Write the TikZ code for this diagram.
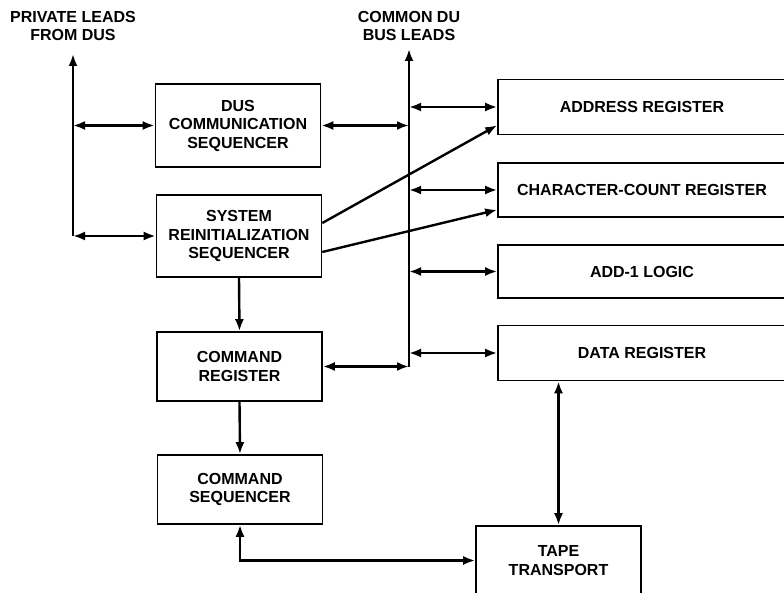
\documentclass[tikz,border=0pt]{standalone}
\usepackage{fontspec}
\newfontfamily\lblfont{Liberation Sans}
\usetikzlibrary{arrows.meta,positioning}
\tikzset{
  block/.style={draw, line width=1.6pt, minimum width=165pt, inner sep=2pt, align=center,
    font=\lblfont\bfseries\fontsize{16}{18.5}\selectfont},
  reg/.style={block, minimum width=288pt, minimum height=55pt},
  lbl/.style={align=center, inner sep=0pt, font=\lblfont\bfseries\fontsize{16}{18}\selectfont},
  link/.style={line width=2.4pt},
  >={Latex[length=12pt,width=9pt]}
}

\begin{document}
\begin{tikzpicture}[x=1pt,y=-1pt]
  \useasboundingbox (0,0) rectangle (784,593);
  \clip (0,0) rectangle (784,593);

  % Left column
  \node[block, minimum height=83pt] (dus) at (238,125.5) {DUS\\COMMUNICATION\\SEQUENCER};
  \node[block, minimum height=82pt] (srs) at (239,236) {SYSTEM\\REINITIALIZATION\\SEQUENCER};
  \node[block, minimum height=69pt] (cr) at (239.5,366.5) {COMMAND\\REGISTER};
  \node[block, minimum height=69pt] (cs) at (240,489.5) {COMMAND\\SEQUENCER};

  % Right column
  \node[reg] (addr) at (642,107) {ADDRESS REGISTER};
  \node[reg, minimum height=54pt] (ccr) at (642,190) {CHARACTER-COUNT REGISTER};
  \node[reg, minimum height=53pt] (add1) at (642,271.5) {ADD-1 LOGIC};
  \node[reg] (data) at (642,353) {DATA REGISTER};
  \node[block, minimum height=69pt] (tape) at (558.5,560.5) {TAPE\\TRANSPORT};

  % Bus labels
  \node[lbl] (plabel) at (73,26) {PRIVATE LEADS\\FROM DUS};
  \node[lbl] (clabel) at (409,26) {COMMON DU\\BUS LEADS};

  % Private leads
  \coordinate (pbtop) at (73,54);
  \coordinate (pbbot) at (pbtop |- srs.west);
  \draw[link,->] (pbbot) -- (pbtop);
  \draw[link,<->] (pbtop |- dus.west) -- (dus.west);
  \draw[link,<->] (pbbot) -- (srs.west);

  % Common bus
  \coordinate (cbtop) at (409,49);
  \coordinate (cbbot) at (cbtop |- cr.east);
  \draw[link,->] (cbbot) -- (cbtop);
  \draw[link,<->] (dus.east) -- (cbtop |- dus.east);
  \draw[link,<->] (cr.east) -- (cbbot);
  \foreach \r in {addr,ccr,add1,data}
    \draw[link,<->] (cbtop |- \r.west) -- (\r.west);

  % Reinitialization lines
  \draw[link,->] ([yshift=13pt]srs.east) -- ([yshift=10pt]addr.south west);
  \draw[link,->] ([yshift=-16pt]srs.east) -- ([yshift=8pt]ccr.south west);

  % Command path and tape
  \draw[link,->] (srs.south) -- (cr.north);
  \draw[link,->] (cr.south) -- (cs.north);
  \draw[link,<->] (cs.south) |- (tape.west);
  \draw[link,<->] (data.south -| tape.north) -- (tape.north);
\end{tikzpicture}
\end{document}
